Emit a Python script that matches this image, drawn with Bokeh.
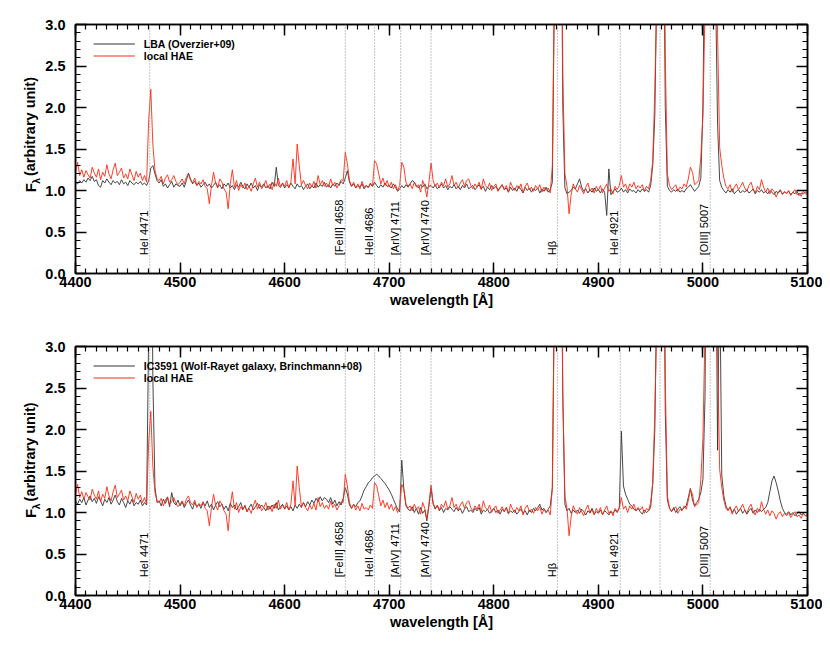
import numpy as np
from bokeh.plotting import figure
from bokeh.models import (Span, Label, LinearAxis, SingleIntervalTicker,
                          PrintfTickFormatter, CustomJSTickFormatter, Range1d, ColumnDataSource)
from bokeh.layouts import column, row
from bokeh.embed import file_html
from bokeh.resources import INLINE
from bokeh.core.properties import value

# wavelength grid (Angstrom), 2 A sampling
wave = np.arange(4400, 5101, 2)

# LBA (Overzier+09) spectrum
flux_lba = [
    1.10, 1.08, 1.12, 1.09, 1.13, 1.10, 1.15, 1.12, 1.17, 1.11,
    1.13, 1.06, 1.04, 1.12, 1.09, 1.14, 1.10, 1.07, 1.12, 1.09,
    1.11, 1.07, 1.13, 1.08, 1.10, 1.06, 1.12, 1.09, 1.07, 1.10,
    1.08, 1.11, 1.07, 1.09, 1.06, 1.12, 1.27, 1.30, 1.20, 1.12,
    1.09, 1.13, 1.05, 1.08, 1.03, 1.07, 1.11, 1.04, 1.08, 1.06,
    1.05, 1.09, 1.04, 1.12, 1.21, 1.14, 1.08, 1.11, 1.06, 1.09,
    1.04, 1.07, 1.10, 1.05, 1.08, 1.03, 1.06, 1.10, 1.04, 1.07,
    1.02, 1.08, 1.05, 1.09, 1.03, 1.06, 1.01, 1.07, 1.04, 1.10,
    1.05, 1.02, 1.08, 1.04, 1.09, 1.03, 1.06, 1.00, 1.07, 1.04,
    1.08, 1.03, 1.06, 1.02, 1.10, 1.05, 1.28, 1.06, 1.04, 1.09,
    1.03, 1.07, 1.04, 1.09, 1.05, 1.02, 1.08, 1.04, 1.06, 1.01,
    1.05, 1.08, 1.02, 1.06, 1.03, 1.09, 1.04, 1.07, 1.05, 1.10,
    1.04, 1.07, 1.03, 1.08, 1.05, 1.09, 1.06, 1.11, 1.08, 1.15,
    1.24, 1.10, 1.05, 1.08, 1.03, 1.06, 1.04, 1.08, 1.02, 1.06,
    1.04, 1.08, 1.05, 1.10, 1.06, 1.03, 1.07, 1.04, 1.09, 1.05,
    1.06, 1.03, 1.08, 1.04, 0.99, 1.02, 1.06, 1.03, 1.07, 1.04,
    1.08, 1.12, 1.10, 1.06, 1.03, 1.07, 1.04, 1.08, 1.02, 1.05,
    1.06, 1.03, 1.07, 1.02, 1.05, 1.08, 1.03, 1.06, 1.01, 1.05,
    1.03, 1.07, 1.02, 1.05, 1.01, 1.06, 1.03, 1.08, 1.02, 1.04,
    1.06, 1.01, 1.04, 1.07, 1.02, 1.05, 0.99, 1.04, 1.01, 1.06,
    1.02, 1.05, 1.00, 1.04, 1.07, 1.01, 1.03, 0.98, 1.04, 1.00,
    1.03, 0.99, 1.05, 1.01, 0.97, 1.04, 1.00, 1.03, 0.98, 1.02,
    1.00, 1.03, 0.97, 1.02, 0.99, 1.04, 0.98, 1.01, 1.10, 3.40,
    9.00, 10.0, 5.50, 2.00, 1.03, 0.96, 0.98, 1.00, 1.04, 1.02,
    1.08, 1.14, 1.04, 0.99, 1.02, 0.97, 1.01, 0.98, 1.03, 0.99,
    1.01, 0.97, 1.02, 0.98, 0.70, 1.26, 0.95, 0.99, 1.02, 0.98,
    0.99, 1.03, 0.98, 1.01, 0.97, 1.02, 0.99, 1.00, 0.97, 1.01,
    0.98, 1.02, 0.99, 1.01, 0.98, 1.06, 1.30, 1.90, 3.60, 8.00,
    10.0, 5.00, 2.00, 1.05, 1.00, 0.98, 1.01, 0.99, 1.02, 0.98,
    1.00, 0.98, 1.02, 1.04, 1.07, 1.03, 0.99, 1.02, 1.05, 1.15,
    2.00, 4.50, 10.0, 12.0, 10.0, 7.00, 3.50, 1.80, 1.12, 1.04,
    1.00, 0.97, 1.01, 0.98, 1.02, 0.96, 0.99, 1.01, 0.97, 1.00,
    0.98, 1.01, 0.97, 0.99, 1.02, 0.96, 1.00, 0.98, 1.01, 0.97,
    0.99, 0.96, 1.00, 0.98, 0.95, 0.99, 0.97, 1.00, 0.96, 0.98,
    0.97, 0.99, 0.95, 0.98, 0.96, 0.99, 0.94, 0.97, 0.96, 0.98,
    0.97,
]

# local HAE composite spectrum (same in both panels)
flux_hae = [
    1.22, 1.34, 1.18, 1.25, 1.16, 1.24, 1.19, 1.15, 1.28, 1.21,
    1.16, 1.26, 1.13, 1.22, 1.17, 1.31, 1.20, 1.14, 1.25, 1.33,
    1.18, 1.22, 1.27, 1.15, 1.20, 1.14, 1.26, 1.19, 1.12, 1.23,
    1.16, 1.21, 1.12, 1.18, 1.10, 1.85, 2.22, 1.55, 1.24, 1.14,
    1.12, 1.17, 1.08, 1.15, 1.19, 1.10, 1.13, 1.18, 1.11, 1.07,
    1.10, 1.14, 1.08, 1.16, 1.20, 1.12, 1.09, 1.15, 1.06, 1.11,
    1.08, 1.13, 1.05, 1.02, 0.84, 1.06, 1.22, 1.09, 1.03, 1.14,
    1.10, 1.02, 0.98, 0.78, 1.08, 1.25, 1.04, 1.12, 1.00, 1.07,
    1.03, 1.09, 1.01, 1.05, 0.99, 1.08, 1.15, 1.04, 1.10, 1.02,
    1.06, 1.12, 1.03, 1.08, 1.01, 1.10, 1.05, 1.15, 1.04, 1.09,
    1.05, 1.12, 1.03, 1.10, 1.38, 1.08, 1.56, 1.30, 1.07, 1.12,
    1.06, 1.02, 1.09, 1.04, 1.11, 1.03, 1.18, 1.07, 1.12, 1.05,
    1.09, 1.04, 1.14, 1.06, 1.10, 1.03, 1.08, 1.13, 1.12, 1.46,
    1.32, 1.12, 1.05, 1.10, 1.03, 1.08, 1.02, 1.11, 1.04, 1.06,
    1.03, 1.09, 1.05, 1.36, 1.32, 1.20, 1.08, 1.15, 1.06, 1.12,
    1.04, 1.10, 1.02, 1.07, 1.00, 1.06, 1.34, 1.28, 1.10, 1.05,
    1.08, 1.02, 1.10, 1.04, 1.07, 0.98, 1.12, 1.05, 0.92, 1.10,
    1.33, 1.12, 1.05, 1.09, 1.03, 1.10, 1.06, 1.14, 1.04, 1.08,
    1.18, 1.06, 1.10, 1.03, 1.09, 1.13, 1.05, 1.12, 1.14, 1.06,
    1.02, 1.08, 1.04, 1.10, 1.01, 1.14, 1.06, 1.03, 1.09, 1.00,
    1.05, 1.08, 0.99, 1.03, 1.07, 1.01, 1.06, 0.98, 1.10, 1.04,
    1.00, 1.06, 1.02, 1.08, 0.97, 1.05, 1.09, 1.01, 1.04, 0.99,
    1.06, 1.02, 1.07, 0.98, 1.04, 1.00, 1.03, 0.97, 1.30, 3.60,
    8.50, 9.00, 6.00, 2.40, 1.20, 1.05, 0.72, 0.95, 1.08, 1.02,
    0.98, 1.06, 1.01, 0.96, 1.04, 1.09, 0.99, 1.03, 0.97, 1.05,
    1.00, 1.06, 0.97, 1.03, 1.08, 0.99, 1.02, 0.96, 1.05, 1.01,
    1.06, 1.18, 1.04, 1.08, 1.00, 1.08, 1.04, 1.10, 1.02, 1.06,
    1.03, 1.07, 0.99, 1.05, 1.02, 1.12, 1.35, 2.20, 3.40, 7.00,
    9.00, 6.00, 2.60, 1.20, 1.06, 1.01, 1.04, 1.07, 0.99, 1.04,
    1.02, 1.08, 1.04, 1.14, 1.28, 1.22, 1.07, 1.09, 1.12, 1.40,
    1.90, 3.20, 8.00, 10.0, 10.0, 8.00, 5.00, 2.90, 1.52, 1.30,
    1.15, 1.05, 1.02, 1.07, 0.98, 1.04, 1.08, 1.01, 1.05, 1.10,
    1.03, 0.99, 1.06, 1.10, 1.02, 0.97, 1.05, 1.01, 1.13, 1.04,
    0.98, 1.03, 0.96, 1.02, 0.99, 0.92, 0.98, 1.01, 0.95, 0.99,
    0.96, 1.00, 0.94, 0.98, 1.01, 0.95, 0.97, 0.93, 0.99, 0.96,
    0.95,
]

# IC3591 (Wolf-Rayet galaxy, Brinchmann+08) spectrum
flux_ic3591 = [
    1.14, 1.10, 1.16, 1.12, 1.18, 1.09, 1.15, 1.20, 1.13, 1.17,
    1.11, 1.19, 1.14, 1.08, 1.16, 1.12, 1.18, 1.10, 1.15, 1.21,
    1.13, 1.09, 1.17, 1.12, 1.06, 1.14, 1.10, 1.16, 1.08, 1.12,
    1.10, 1.15, 1.08, 1.12, 1.09, 3.20, 5.50, 2.60, 1.30, 1.12,
    1.14, 1.08, 1.16, 1.11, 1.18, 1.07, 1.24, 1.12, 1.09, 1.15,
    1.08, 1.13, 1.06, 1.11, 1.15, 1.09, 1.04, 1.12, 1.07, 1.10,
    1.05, 1.12, 1.08, 1.14, 1.06, 1.10, 1.03, 1.09, 1.13, 1.07,
    1.10, 1.04, 1.08, 1.02, 1.11, 1.06, 1.09, 1.03, 1.07, 1.12,
    1.04, 1.08, 1.01, 1.06, 1.10, 1.03, 1.07, 1.11, 1.05, 1.09,
    1.06, 1.02, 1.08, 1.04, 1.09, 1.05, 1.12, 1.03, 1.07, 1.10,
    1.04, 1.08, 1.03, 1.07, 1.02, 1.09, 1.05, 1.10, 1.06, 1.12,
    1.07, 1.13, 1.09, 1.15, 1.11, 1.17, 1.13, 1.19, 1.14, 1.18,
    1.16, 1.12, 1.18, 1.10, 1.15, 1.08, 1.13, 1.09, 1.17, 1.30,
    1.22, 1.09, 1.05, 1.10, 1.07, 1.12, 1.14, 1.20, 1.27, 1.31,
    1.36, 1.38, 1.42, 1.44, 1.46, 1.44, 1.41, 1.38, 1.35, 1.31,
    1.27, 1.22, 1.16, 1.10, 1.04, 1.01, 1.63, 1.28, 1.08, 1.04,
    1.02, 1.07, 1.00, 1.05, 0.98, 1.06, 0.99, 1.03, 0.90, 1.08,
    1.29, 1.10, 1.04, 1.08, 1.02, 1.06, 1.00, 1.05, 1.03, 1.07,
    1.04, 1.01, 1.06, 1.02, 1.05, 0.99, 1.04, 1.07, 1.01, 1.03,
    1.00, 1.05, 1.02, 1.06, 0.98, 1.03, 1.01, 1.04, 0.99, 1.02,
    1.05, 1.00, 1.03, 0.98, 1.04, 1.01, 1.06, 0.99, 1.02, 1.00,
    1.03, 0.98, 1.01, 1.04, 0.99, 1.02, 0.97, 1.03, 1.00, 1.05,
    1.02, 1.06, 1.10, 1.03, 1.05, 1.00, 1.04, 1.08, 1.30, 3.80,
    9.50, 10.0, 5.00, 2.40, 1.10, 1.02, 1.05, 0.99, 1.03, 1.00,
    1.03, 0.99, 1.04, 1.01, 0.97, 1.02, 1.00, 1.05, 0.98, 1.01,
    0.99, 1.03, 0.98, 1.02, 1.00, 0.97, 1.01, 0.99, 1.03, 1.00,
    1.05, 1.98, 1.32, 1.22, 1.16, 1.10, 1.08, 1.04, 1.02, 1.05,
    1.01, 0.98, 1.03, 1.00, 1.02, 1.06, 1.35, 2.00, 3.80, 8.00,
    10.0, 5.50, 2.20, 1.15, 1.05, 1.01, 1.06, 1.00, 1.04, 1.07,
    1.03, 1.06, 1.08, 1.18, 1.29, 1.15, 1.08, 1.12, 1.16, 1.24,
    1.40, 2.40, 6.00, 10.0, 10.0, 8.00, 5.00, 1.75, 4.00, 1.45,
    1.20, 1.08, 1.03, 1.06, 1.00, 1.04, 0.98, 1.02, 1.05, 0.99,
    1.03, 0.98, 1.02, 1.05, 0.99, 1.03, 1.00, 1.04, 1.01, 1.04,
    1.06, 1.12, 1.25, 1.38, 1.44, 1.36, 1.26, 1.14, 1.05, 1.00,
    0.98, 1.01, 0.97, 1.00, 0.96, 0.99, 1.01, 0.97, 0.99, 0.96,
    0.98,
]

# marked lines
line_wave = [4471, 4658, 4686, 4711, 4740, 4861, 4921, 4959, 5007]
line_label = ["HeI 4471", "[FeIII] 4658", "HeII 4686", "[ArIV] 4711", "[ArIV] 4740",
              "H\u03b2", "HeI 4921", "", "[OIII] 5007"]

FONT = "Liberation Sans"
FRAME_H = 249
FRAME_W = 728
X0, X1, Y0, Y1 = 4400, 5100, 0.0, 3.0
LAB_W = 42          # side strip carrying the y-axis title
TOTAL_W = 822
BLACK = "#333333"
RED = "#ff2a14"


def px_to_x(px):      # pixels from frame left -> wavelength
    return X0 + px * (X1 - X0) / FRAME_W


def px_to_y(py):      # pixels below frame top -> flux
    return Y1 - py * (Y1 - Y0) / FRAME_H


def ylabel_fig(height, mb_bottom):
    """Narrow side figure that carries the F_lambda (arbitrary unit) axis title."""
    f = figure(width=LAB_W, height=height, output_backend="svg", toolbar_location=None,
               x_range=Range1d(0, LAB_W), y_range=Range1d(0, height),
               x_axis_location=None, y_axis_location=None, min_border=0)
    f.grid.visible = False
    f.outline_line_color = None
    for txt, xx, yy, fs in [("F", 29.5, mb_bottom + 56, "15px"),
                            ("\u03bb", 35.5, mb_bottom + 67, "10px"),
                            ("(arbitrary unit)", 29.5, mb_bottom + 77, "14.5px")]:
        f.add_layout(Label(x=xx, y=yy, text=txt, angle=np.pi / 2,
                           text_align="left", text_baseline="middle",
                           text_font=FONT, text_font_style="bold",
                           text_font_size=fs, text_color="black"))
    return f


def make_panel(flux_black, name_black, mb_top, mb_bottom):
    height = mb_top + FRAME_H + mb_bottom
    p = figure(width=TOTAL_W - LAB_W, height=height,
               output_backend="svg", toolbar_location=None,
               x_range=Range1d(X0, X1), y_range=Range1d(Y0, Y1),
               min_border_left=71 - LAB_W, min_border_right=15,
               min_border_top=mb_top, min_border_bottom=mb_bottom,
               x_axis_label="wavelength [\u00c5]")
    p.grid.visible = False
    p.outline_line_color = "black"
    p.outline_line_width = 1.5

    xt = SingleIntervalTicker(interval=100, num_minor_ticks=10)
    yt = SingleIntervalTicker(interval=0.5, num_minor_ticks=5)
    p.xaxis.ticker = xt
    p.yaxis.ticker = yt
    p.yaxis.formatter = PrintfTickFormatter(format="%.1f")

    top_ax = LinearAxis(ticker=xt, formatter=CustomJSTickFormatter(code="return ''"))
    right_ax = LinearAxis(ticker=yt, formatter=CustomJSTickFormatter(code="return ''"))
    p.add_layout(top_ax, "above")
    p.add_layout(right_ax, "right")

    for ax in p.axis:
        ax.axis_line_color = "black"
        ax.axis_line_width = 1.5
        ax.major_tick_in = 11
        ax.major_tick_out = 0
        ax.minor_tick_in = 5
        ax.minor_tick_out = 0
        ax.major_tick_line_color = "black"
        ax.minor_tick_line_color = "black"
        ax.major_tick_line_width = 1.5
        ax.minor_tick_line_width = 1.2
        ax.major_label_text_font = FONT
        ax.major_label_text_font_style = "bold"
        ax.major_label_text_font_size = "14.5px"
        ax.major_label_text_color = "black"
    p.below[0].axis_label_text_font = FONT
    p.below[0].axis_label_text_font_style = "bold"
    p.below[0].axis_label_text_font_size = "14.5px"
    p.below[0].axis_label_text_color = "black"
    p.below[0].axis_label_standoff = 2
    p.below[0].major_label_standoff = 3
    p.left[0].major_label_standoff = 10

    # dotted marker lines
    for w in line_wave:
        p.add_layout(Span(location=w, dimension="height", line_color="#8c8c8c",
                          line_dash="1 2", line_width=1))

    lab = [(w, t) for w, t in zip(line_wave, line_label) if t]
    src = ColumnDataSource(dict(x=[w for w, _ in lab], t=[t for _, t in lab],
                                y=[0.22] * len(lab)))
    p.text(x="x", y="y", text="t", source=src, angle=np.pi / 2,
           text_align="left", text_baseline="bottom",
           text_font=value(FONT), text_font_size="11px", text_color="black")

    # spectra
    p.line(wave, flux_black, line_color=BLACK, line_width=0.9)
    p.line(wave, flux_hae, line_color=RED, line_width=0.9)

    # legend (key lines + labels), placed in frame pixels
    rows_py = [19.5, 31.5]
    names = [name_black, "local HAE"]
    colors = [BLACK, RED]
    p.segment(x0=[px_to_x(18)] * 2, x1=[px_to_x(59)] * 2,
              y0=[px_to_y(v) for v in rows_py], y1=[px_to_y(v) for v in rows_py],
              line_color=colors, line_width=1.0)
    p.text(x=[px_to_x(68)] * 2, y=[px_to_y(v) for v in rows_py], text=names,
           text_align="left", text_baseline="middle",
           text_font=value(FONT), text_font_style="bold",
           text_font_size="10.5px", text_color="black")

    return row(ylabel_fig(height, mb_bottom), p, spacing=0)


p1 = make_panel(flux_lba, "LBA (Overzier+09)", 24, 49)
p2 = make_panel(flux_ic3591, "IC3591 (Wolf-Rayet galaxy, Brinchmann+08)", 24, 42)

layout = column(p1, p2, spacing=0)
open("out.html", "w").write(file_html(layout, INLINE))
